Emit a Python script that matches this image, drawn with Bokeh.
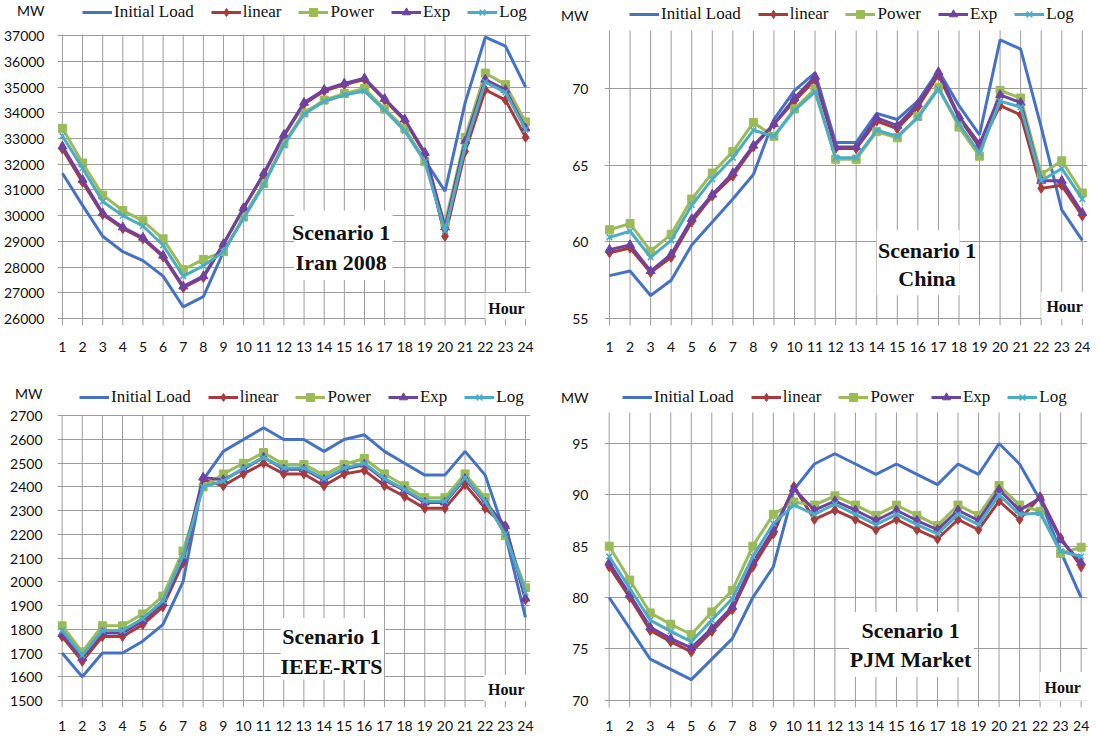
from bokeh.plotting import figure
from bokeh.models import Legend, LegendItem, Label, BoxAnnotation, FixedTicker, Range1d, NumeralTickFormatter
from bokeh.layouts import gridplot
from bokeh.embed import file_html
from bokeh.resources import INLINE

# ---------------- data ----------------
hours = list(range(1, 25))
series_labels = ["Initial Load", "linear", "Power", "Exp", "Log"]

iran_initial = [31650, 30400, 29200, 28600, 28250, 27650, 26450, 26850, 28600, 29950, 31250, 32800,
                34000, 34450, 34700, 34900, 34150, 33350, 32150, 30950, 34400, 36950, 36600, 35000]
iran_linear = [32600, 31300, 30050, 29500, 29100, 28400, 27200, 27600, 28900, 30300, 31600, 33100,
               34350, 34850, 35100, 35300, 34500, 33700, 32400, 29200, 32500, 34900, 34500, 33050]
iran_power = [33400, 32050, 30800, 30200, 29800, 29100, 27900, 28300, 28600, 29950, 31250, 32800,
              34000, 34500, 34750, 34950, 34150, 33400, 32100, 29700, 33050, 35550, 35100, 33650]
iran_exp = [32700, 31400, 30100, 29550, 29150, 28450, 27250, 27650, 28900, 30300, 31650, 33150,
            34400, 34900, 35150, 35350, 34550, 33750, 32450, 29550, 32900, 35300, 34900, 33400]
iran_log = [33100, 31850, 30550, 30000, 29600, 28850, 27650, 28050, 28600, 29900, 31200, 32750,
            33950, 34450, 34700, 34850, 34100, 33300, 32100, 29400, 32700, 35200, 34800, 33350]

china_initial = [57.8, 58.1, 56.5, 57.5, 59.8, 61.3, 62.8, 64.4, 68.0, 69.9, 71.05, 66.5,
                 66.5, 68.4, 68.0, 69.2, 71.2, 68.9, 67.0, 73.2, 72.6, 67.5, 62.1, 60.1]
china_linear = [59.3, 59.6, 58.0, 59.0, 61.3, 63.0, 64.3, 66.2, 67.7, 69.2, 70.6, 66.1,
                66.1, 67.9, 67.4, 68.8, 70.9, 68.1, 66.2, 68.9, 68.3, 63.5, 63.7, 61.7]
china_power = [60.8, 61.2, 59.4, 60.5, 62.8, 64.5, 65.9, 67.8, 66.9, 68.7, 70.0, 65.4,
               65.4, 67.2, 66.8, 68.2, 70.1, 67.5, 65.6, 69.9, 69.4, 64.4, 65.3, 63.2]
china_exp = [59.5, 59.8, 58.1, 59.2, 61.5, 63.1, 64.5, 66.3, 67.7, 69.4, 70.8, 66.2,
             66.2, 68.1, 67.6, 69.0, 71.1, 68.2, 66.4, 69.6, 69.1, 64.0, 64.0, 61.9]
china_log = [60.3, 60.7, 59.0, 60.1, 62.4, 64.1, 65.5, 67.3, 66.9, 68.6, 69.8, 65.5,
             65.5, 67.3, 66.9, 68.1, 70.0, 67.7, 65.8, 69.2, 68.8, 64.0, 64.8, 62.8]

ieee_initial = [1700, 1600, 1700, 1700, 1750, 1820, 2000, 2430, 2550, 2600, 2650, 2600,
                2600, 2550, 2600, 2620, 2550, 2500, 2450, 2450, 2550, 2450, 2200, 1850]
ieee_linear = [1770, 1665, 1770, 1770, 1820, 1895, 2080, 2430, 2405, 2455, 2500, 2455,
               2455, 2405, 2455, 2470, 2405, 2360, 2310, 2310, 2410, 2310, 2235, 1925]
ieee_power = [1815, 1705, 1815, 1815, 1865, 1940, 2130, 2400, 2455, 2500, 2545, 2495,
              2495, 2450, 2495, 2520, 2455, 2405, 2355, 2355, 2455, 2355, 2195, 1975]
ieee_exp = [1780, 1680, 1785, 1785, 1835, 1910, 2095, 2440, 2430, 2475, 2525, 2475,
            2475, 2430, 2475, 2495, 2430, 2385, 2335, 2335, 2435, 2335, 2235, 1930]
ieee_log = [1795, 1690, 1795, 1795, 1845, 1920, 2110, 2400, 2425, 2480, 2525, 2480,
            2480, 2435, 2480, 2500, 2435, 2390, 2340, 2340, 2440, 2340, 2200, 1955]

pjm_initial = [80, 77, 74, 73, 72, 74, 76, 80, 83, 90.5, 93, 94,
               93, 92, 93, 92, 91, 93, 92, 95, 93, 89.5, 84.5, 80]
pjm_linear = [83, 80, 76.8, 75.7, 74.7, 76.7, 78.8, 83, 86.2, 90.8, 87.6, 88.5,
              87.6, 86.6, 87.6, 86.6, 85.7, 87.6, 86.6, 89.4, 87.6, 89.8, 85.8, 83]
pjm_power = [85, 81.7, 78.5, 77.4, 76.4, 78.6, 80.7, 85, 88.1, 89.3, 89, 89.9,
             89, 88, 89, 88, 87, 89, 88, 90.9, 89, 88.4, 84.3, 84.9]
pjm_exp = [83.4, 80.3, 77.1, 76, 75.1, 77, 79.1, 83.4, 86.6, 90.6, 88.5, 89.4,
           88.5, 87.5, 88.5, 87.5, 86.6, 88.5, 87.5, 90.5, 88.5, 89.7, 85.6, 83.4]
pjm_log = [84, 80.9, 77.8, 76.7, 75.7, 77.8, 79.9, 84, 87.2, 89, 88.1, 89.1,
           88.1, 87.1, 88.1, 87.1, 86.2, 88.1, 87.1, 90, 88.1, 88.2, 84.5, 84]

iran_yticks = list(range(26000, 37001, 1000))
china_yticks = [55, 60, 65, 70]
ieee_yticks = list(range(1500, 2701, 100))
pjm_yticks = [70, 75, 80, 85, 90, 95]

# ---------------- styles ----------------
COLORS = ["#4572c4", "#a83a3a", "#9bbb59", "#6f42a0", "#4bacc6"]
MARKERS = [None, "diamond", "square", "triangle", "x"]
MSIZES = [0, 10, 8, 9, 8]
GRID = "#9c9c9c"
SERIF = "Liberation Serif"
SANS = "Lato"


def make_panel(series, width, height, borders, x_rng, y_rng, grid_top, y_ticks, mw_y,
               legend_xy, scen_text, scen_x, scen_ys, scen_box,
               hour_xy, hour_box, x_standoff, y_standoff):
    left, right, top, bottom = borders
    p = figure(width=width, height=height, x_range=Range1d(*x_rng), y_range=Range1d(*y_rng),
               output_backend="svg", toolbar_location=None,
               min_border_left=left, min_border_right=right,
               min_border_top=top, min_border_bottom=bottom)
    p.outline_line_color = None
    p.background_fill_color = "white"
    p.border_fill_color = "white"

    p.xaxis.ticker = FixedTicker(ticks=hours)
    p.yaxis.ticker = FixedTicker(ticks=y_ticks + [mw_y])
    p.yaxis.formatter = NumeralTickFormatter(format="0")
    p.yaxis.major_label_overrides = {mw_y: "MW"}
    for ax in (p.xaxis, p.yaxis):
        ax.axis_line_color = None
        ax.major_tick_line_color = None
        ax.minor_tick_line_color = None
        ax.major_label_text_font = SANS
        ax.major_label_text_font_size = "14px"
        ax.major_label_text_color = "#111111"
    p.xaxis.major_label_standoff = x_standoff
    p.yaxis.major_label_standoff = y_standoff

    # horizontal grid from the value ticks only; vertical grid drawn up to the top value
    p.ygrid.ticker = FixedTicker(ticks=y_ticks)
    p.ygrid.grid_line_color = GRID
    p.xgrid.grid_line_color = None
    vg = p.segment(x0=hours, y0=[y_rng[0]] * len(hours), x1=hours, y1=[grid_top] * len(hours),
                   line_color=GRID, line_width=1)
    vg.level = "underlay"

    items = []
    for i, (name, vals) in enumerate(zip(series_labels, series)):
        rs = [p.line(hours, vals, line_color=COLORS[i], line_width=3)]
        if MARKERS[i]:
            if MARKERS[i] == "x":
                rs.append(p.scatter(hours, vals, marker="x", size=MSIZES[i],
                                    line_color=COLORS[i], line_width=1.6))
            else:
                rs.append(p.scatter(hours, vals, marker=MARKERS[i], size=MSIZES[i],
                                    fill_color=COLORS[i], line_color=COLORS[i]))
        items.append(LegendItem(label=name, renderers=rs))

    legend = Legend(items=items, orientation="horizontal", location=legend_xy,
                    label_text_font=SERIF, label_text_font_size="17px",
                    label_text_color="#111111",
                    glyph_width=30, glyph_height=20, label_height=20,
                    label_standoff=2, spacing=17, padding=0, margin=0,
                    background_fill_alpha=0, border_line_alpha=0)
    p.add_layout(legend)

    bx0, bx1, by0, by1 = scen_box
    p.add_layout(BoxAnnotation(left=bx0, right=bx1, bottom=by0, top=by1,
                               fill_color="white", fill_alpha=1, line_alpha=0))
    hx0, hx1, hy0, hy1 = hour_box
    p.add_layout(BoxAnnotation(left=hx0, right=hx1, bottom=hy0, top=hy1,
                               fill_color="white", fill_alpha=1, line_alpha=0))
    for t, yy in zip(scen_text, scen_ys):
        p.add_layout(Label(x=scen_x, y=yy, text=t, text_font=SERIF, text_font_style="bold",
                           text_font_size="22px", text_align="center",
                           text_baseline="middle", text_color="#111111"))
    p.add_layout(Label(x=hour_xy[0], y=hour_xy[1], text="Hour", text_font=SERIF,
                       text_font_style="bold", text_font_size="16px", text_align="center",
                       text_baseline="middle", text_color="#111111"))
    return p


p1 = make_panel([iran_initial, iran_linear, iran_power, iran_exp, iran_log],
                548, 363, (49, 18, 0, 38), (0.756, 24.244), (25728, 38373), 37050,
                iran_yticks, 37984, (25, 303),
                ["Scenario 1", "Iran 2008"], 14.84, [29346, 28179],
                (12.5, 17.4, 27500, 30200), (23.05, 26389), (22.0, 24.4, 25975, 27000), 10, 7)

p2 = make_panel([china_initial, china_linear, china_power, china_exp, china_log],
                542, 363, (55, 3, 0, 38), (0.757, 24.252), (54.543, 75.77), 73.81,
                china_yticks, 74.79, (25, 301),
                ["Scenario 1", "China"], 16.45, [59.46, 57.6],
                (14.0, 18.03, 56.52, 60.76), (23.14, 55.76), (22.0, 24.4, 54.97, 56.74), 10, 10)

p3 = make_panel([ieee_initial, ieee_linear, ieee_power, ieee_exp, ieee_log],
                548, 370, (48, 18, 0, 26), (0.771, 24.249), (1470.5, 2920.5), 2701.3,
                ieee_yticks, 2794, (22, 300),
                ["Scenario 1", "IEEE-RTS"], 14.37, [1770, 1644],
                (11.85, 16.98, 1587, 1848), (23.05, 1545), (21.94, 24.4, 1498, 1608), 7, 9)

p4 = make_panel([pjm_initial, pjm_linear, pjm_power, pjm_exp, pjm_log],
                542, 370, (56, 2, 0, 26), (0.771, 24.31), (69.29, 102.79), 98.02,
                pjm_yticks, 99.48, (18, 300),
                ["Scenario 1", "PJM Market"], 15.69, [76.8, 73.95],
                (12.7, 18.77, 72.27, 78.58), (23.1, 71.2), (21.98, 24.4, 69.95, 72.75), 7, 10)

grid = gridplot([[p1, p2], [p3, p4]], toolbar_location=None)

html = file_html(grid, INLINE, title="Scenario 1 load curves")
html = html.replace("<head>", "<head><style>html,body{overflow:hidden;}</style>", 1)
open("out.html", "w").write(html)
